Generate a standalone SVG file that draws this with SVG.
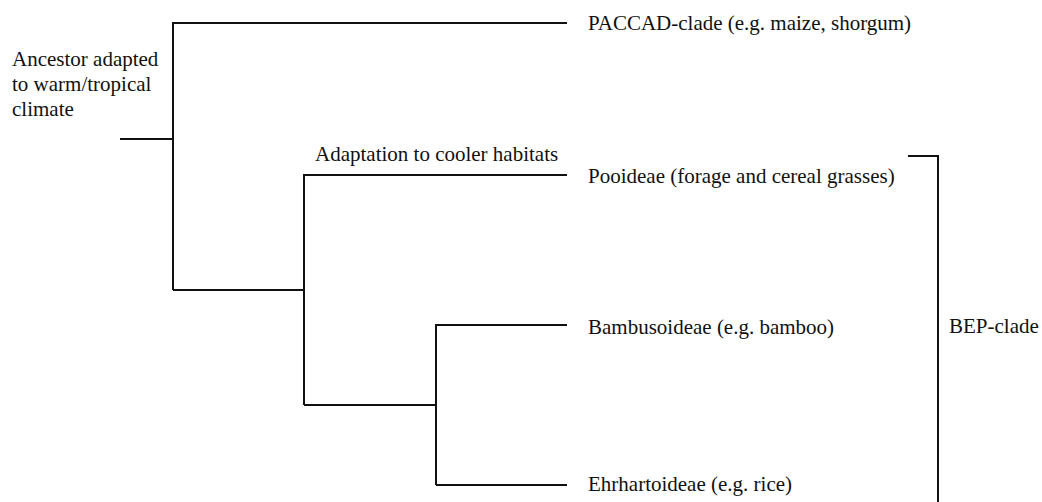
<svg xmlns="http://www.w3.org/2000/svg" width="1042" height="502" viewBox="0 0 1042 502">
<style>
text { font-family: "Liberation Serif", "Times New Roman", serif; font-size: 21px; fill: #111; }
.e { stroke: #111; stroke-width: 2; fill: none; }
</style>
<rect width="1042" height="502" fill="#fff"/>
<g id="connectors">
<path class="e" d="M120 139H173"/>
<path class="e" d="M173 290V23H567"/>
<path class="e" d="M173 290H304"/>
<path class="e" d="M304 405V175H567"/>
<path class="e" d="M304 405H436"/>
<path class="e" d="M436 485V325H567"/>
<path class="e" d="M436 485H567"/>
<path class="e" d="M908 156H938V502"/>
</g>
<g id="ancestor">
<text x="12" y="66">Ancestor adapted</text>
<text x="12" y="91">to warm/tropical</text>
<text x="12" y="116">climate</text>
</g>
<g id="adaptation"><text x="315" y="161">Adaptation to cooler habitats</text></g>
<g id="paccad"><text x="588" y="30">PACCAD-clade (e.g. maize, shorgum)</text></g>
<g id="pooideae"><text x="588" y="183">Pooideae (forage and cereal grasses)</text></g>
<g id="bambusoideae"><text x="588" y="334">Bambusoideae (e.g. bamboo)</text></g>
<g id="ehrhartoideae"><text x="588" y="491">Ehrhartoideae (e.g. rice)</text></g>
<g id="bep"><text x="949" y="333">BEP-clade</text></g>
</svg>
